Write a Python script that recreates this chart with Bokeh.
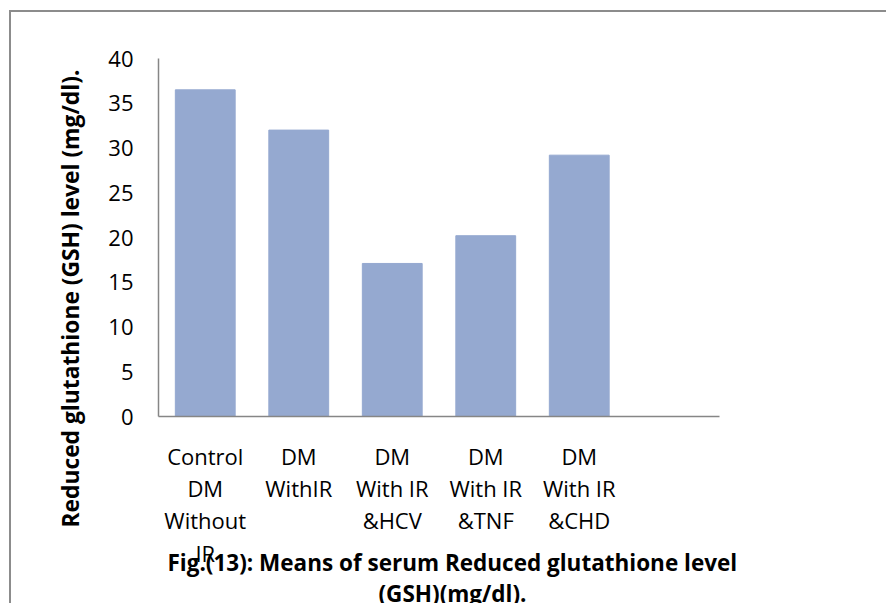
from bokeh.plotting import figure
from bokeh.models import FactorRange, Range1d, FixedTicker, Title
from bokeh.embed import file_html
from bokeh.resources import INLINE

categories = ["Control\nDM\nWithout\nIR", "DM\nWithIR", "DM\nWith IR\n&HCV",
              "DM\nWith IR\n&TNF", "DM\nWith IR\n&CHD", " "]
bar_categories = categories[:5]
gsh_values = [36.5, 32.0, 17.1, 20.2, 29.2]
y_ticks = [0, 5, 10, 15, 20, 25, 30, 35, 40]
y_title = "Reduced glutathione (GSH) level (mg/dl)."
fig_title = ["Fig.(13): Means of serum Reduced glutathione level", "(GSH)(mg/dl)."]

W, H = 886, 603
FL, FR, FT, FB = 158, 719, 58, 416   # frame edges in px

p = figure(width=W, height=H, output_backend="svg", toolbar_location=None,
           x_range=FactorRange(*categories, range_padding=0),
           y_range=Range1d(0, 40),
           min_border_left=FL, min_border_right=W - FR,
           min_border_top=FT, min_border_bottom=H - FB)
p.background_fill_color = "white"
p.border_fill_color = None
p.outline_line_color = None
p.grid.grid_line_color = None
p.styles = {
    "background": "linear-gradient(#8c8c8c, #8c8c8c) 9px 10px / 2px 700px no-repeat, "
                  "linear-gradient(#8c8c8c, #8c8c8c) 9px 10px / 1000px 2px no-repeat, white"
}

FONT = "Open Sans"
p.vbar(x=bar_categories, top=gsh_values, width=0.64, bottom=0,
       fill_color="#95A9D0", line_color="#95A9D0")

p.yaxis.ticker = FixedTicker(ticks=y_ticks)
for ax in (p.xaxis[0], p.yaxis[0]):
    ax.axis_line_color = "#868686"
    ax.axis_line_width = 1.5
    ax.major_tick_line_color = None
    ax.minor_tick_line_color = None
    ax.major_label_text_font = FONT
    ax.major_label_text_font_size = "22px"
    ax.major_label_text_color = "black"
p.yaxis.major_label_standoff = 19
p.xaxis.major_label_standoff = 18
p.xaxis.major_label_text_line_height = 1.08

p.add_layout(Title(text=y_title, align="left", offset=-111, standoff=39,
                   text_font=FONT, text_font_style="bold", text_font_size="22.8px",
                   text_color="black"), "left")
# second caption line first (nearest the axis), first caption line after it
p.add_layout(Title(text=fig_title[1], align="left", offset=220, standoff=-76,
                   vertical_align="bottom",
                   text_font=FONT, text_font_style="bold", text_font_size="22.5px",
                   text_color="black"), "below")
p.add_layout(Title(text=fig_title[0], align="left", offset=9, standoff=-47,
                   vertical_align="top",
                   text_font=FONT, text_font_style="bold", text_font_size="22.5px",
                   text_color="black"), "below")

open("out.html", "w").write(file_html(p, INLINE))
